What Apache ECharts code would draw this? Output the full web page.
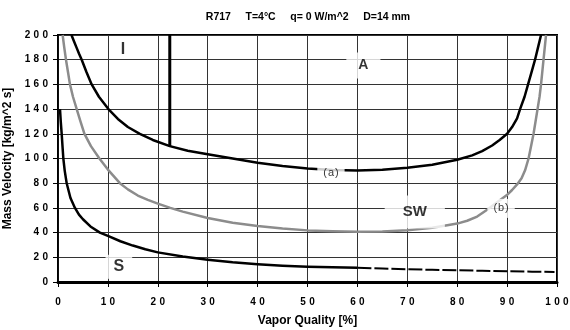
<!DOCTYPE html>
<html>
<head>
<meta charset="utf-8">
<script src="https://cdn.jsdelivr.net/npm/echarts@6/dist/echarts.min.js"></script>
<style>
  html, body { margin: 0; padding: 0; background: #fff; }
  #chart { width: 570px; height: 330px; }
</style>
</head>
<body>
<div id="chart"></div>
<script>
// 흐름 양식 지도 (flow pattern map) 데이터
var titleText = 'R717     T=4°C     q= 0 W/m^2     D=14 mm';

// I/A -> 아래 경계 (검정 위 곡선)
var curveA = [
    [2.7, 200], [3.2, 195], [3.7, 190], [4.2, 185], [4.75, 180], [5.7, 170],
    [6.75, 160], [8.2, 150], [10.1, 140], [12, 132], [14, 125.5], [16.4, 120],
    [19, 115], [22.4, 110], [26, 106.3], [30, 103.4], [35, 100], [40, 96.6],
    [45, 94], [50, 91.9], [55, 90.7], [60, 90.2], [65, 90.9], [70, 92.5],
    [75, 95], [80, 99], [83, 102.5], [85, 106], [87, 110.5], [88.5, 115],
    [90, 120], [91, 125.5], [92, 132.5], [92.6, 140], [93.5, 150], [94.2, 160],
    [94.9, 170], [95.6, 180], [96.2, 190], [96.8, 200]
];

// SW 경계 (회색 곡선)
var curveSW = [
    [0.93, 200], [1.25, 190], [1.6, 180], [2, 170], [2.4, 160], [3, 150],
    [3.75, 140], [4.5, 130], [5.3, 120], [6.6, 110], [8.3, 100], [10, 91],
    [12.4, 80], [14, 75], [16, 70], [18, 66.5], [20, 63.5], [22.5, 60],
    [25, 57], [30, 51.8], [35, 48], [40, 45.4], [45, 43.3], [50, 41.8],
    [55, 41], [60, 40.6], [65, 40.8], [70, 41.9], [75, 44], [78, 45.9],
    [80, 47.3], [82, 49.6], [84, 53], [86, 58.5], [88, 64.5], [89.9, 70.2],
    [91, 74.5], [92, 79], [92.9, 84], [93.6, 90.4], [94.3, 100], [94.8, 110],
    [95.3, 120], [95.7, 130], [96.1, 140], [96.5, 150], [96.8, 160],
    [97.3, 180], [97.8, 200]
];

// S 경계 (검정 아래 곡선), 앞쪽은 실선, 뒤쪽은 점선
var curveS = [
    [0.4, 140], [0.55, 130], [0.74, 120], [0.9, 110], [1.07, 100], [1.35, 90],
    [1.74, 80], [2.5, 68], [3.4, 60], [4.2, 54.5], [5, 50.8], [6.5, 45],
    [8.4, 40], [10, 37.3], [12.5, 33], [15, 29.5], [17.5, 26.5], [20, 24],
    [25, 20.6], [30, 18.1], [35, 16], [40, 14.4], [45, 13.2], [50, 12.4],
    [55, 11.9], [60, 11.5]
];
var curveSTail = [
    [60, 11.5], [65, 10.9], [70, 10.3], [75, 9.9], [80, 9.5], [85, 9.1],
    [90, 8.7], [95, 8.4], [99.5, 8.1]
];

// I 영역 경계 (수직선)
var lineI = [[22.4, 110], [22.4, 200]];

// 영역 글자
var labelText = ['I', 'A', 'SW', 'S', '(a)', '(b)'];
var labelX = [13, 61.2, 71.5, 12.2, 54.7, 88.8];
var labelY = [188.4, 175.4, 56.6, 12.3, 88, 59.6];

var xTicks = [0, 10, 20, 30, 40, 50, 60, 70, 80, 90, 100];
var yTicks = [0, 20, 40, 60, 80, 100, 120, 140, 160, 180, 200];

var labelStyle = [
    { fontSize: 16, fontWeight: 'bold', backgroundColor: 'transparent', padding: 0 },
    { fontSize: 14, fontWeight: 'bold', backgroundColor: '#fff', padding: [6, 12] },
    { fontSize: 15, fontWeight: 'bold', backgroundColor: '#fff', padding: [9, 18] },
    { fontSize: 16, fontWeight: 'bold', backgroundColor: '#fff', padding: [4, 8] },
    { fontSize: 11, fontWeight: 'normal', backgroundColor: '#fff', padding: [3, 6] },
    { fontSize: 11, fontWeight: 'normal', backgroundColor: '#fff', padding: [4, 6] }
];

function spaced(v) {
    return String(v).split('').join('\u2004');
}

var labelData = [];
for (var i = 0; i < labelText.length; i++) {
    labelData.push({
        value: [labelX[i], labelY[i]],
        name: labelText[i],
        label: Object.assign({
            show: true,
            position: 'inside',
            formatter: i >= 4 ? labelText[i].split('').join('\u200A') : labelText[i],
            color: '#000',
            fontFamily: 'Liberation Sans'
        }, labelStyle[i])
    });
}

var curveLine = {
    type: 'line',
    smooth: false,
    symbol: 'none',
    z: 4
};

var chart = echarts.init(document.getElementById('chart'));
var option = {
    animation: false,
    backgroundColor: '#fff',
    textStyle: { fontFamily: 'Liberation Sans' },
    title: {
        text: titleText,
        left: 308,
        textAlign: 'center',
        top: 12,
        padding: 0,
        textStyle: { fontSize: 10.5, fontWeight: 'bold', color: '#000', fontFamily: 'Liberation Sans' }
    },
    grid: {
        left: 58,
        right: 13,
        top: 35,
        bottom: 48,
        outerBoundsMode: 'none',
        containLabel: false,
        show: true,
        borderColor: '#000',
        borderWidth: 2
    },
    xAxis: {
        type: 'value',
        min: 0,
        max: 100,
        interval: 10,
        name: 'Vapor Quality [%]',
        nameLocation: 'middle',
        nameGap: 33,
        nameTextStyle: { fontSize: 12, fontWeight: 'bold', color: '#000' },
        axisLine: { lineStyle: { color: '#000', width: 3 } },
        axisTick: { show: true, length: 5, lineStyle: { color: '#000', width: 1 } },
        axisLabel: {
            margin: 15,
            fontSize: 10,
            fontWeight: 'bold',
            color: '#000',
            formatter: function (v) { return xTicks.indexOf(v) >= 0 ? spaced(v) : ''; }
        },
        splitLine: { show: true, lineStyle: { color: '#333', width: 1 } }
    },
    yAxis: {
        type: 'value',
        min: 0,
        max: 200,
        interval: 20,
        name: 'Mass Velocity [kg/m^2 s]',
        nameLocation: 'middle',
        nameGap: 38,
        nameTextStyle: { fontSize: 12, fontWeight: 'bold', color: '#000' },
        axisLine: { show: true, lineStyle: { color: '#000', width: 1.5 } },
        axisTick: { show: true, length: 5, lineStyle: { color: '#000', width: 1 } },
        axisLabel: {
            margin: 10,
            fontSize: 10,
            fontWeight: 'bold',
            color: '#000',
            formatter: function (v) { return yTicks.indexOf(v) >= 0 ? spaced(v) : ''; }
        },
        splitLine: { show: true, lineStyle: { color: '#333', width: 1 } }
    },
    series: [
        Object.assign({}, curveLine, {
            data: curveSW,
            z: 3,
            lineStyle: { color: '#8c8c8c', width: 2.5, join: 'round' }
        }),
        Object.assign({}, curveLine, {
            data: curveA,
            lineStyle: { color: '#000', width: 2.5, join: 'round' }
        }),
        Object.assign({}, curveLine, {
            data: curveS,
            lineStyle: { color: '#000', width: 2.5, join: 'round' }
        }),
        Object.assign({}, curveLine, {
            data: curveSTail,
            lineStyle: { color: '#000', width: 2, type: [14, 3] }
        }),
        {
            type: 'line',
            data: lineI,
            symbol: 'none',
            z: 4,
            lineStyle: { color: '#000', width: 3 }
        },
        {
            type: 'scatter',
            data: labelData,
            symbolSize: 0,
            z: 10,
            silent: true
        }
    ]
};
chart.setOption(option);
</script>
</body>
</html>
